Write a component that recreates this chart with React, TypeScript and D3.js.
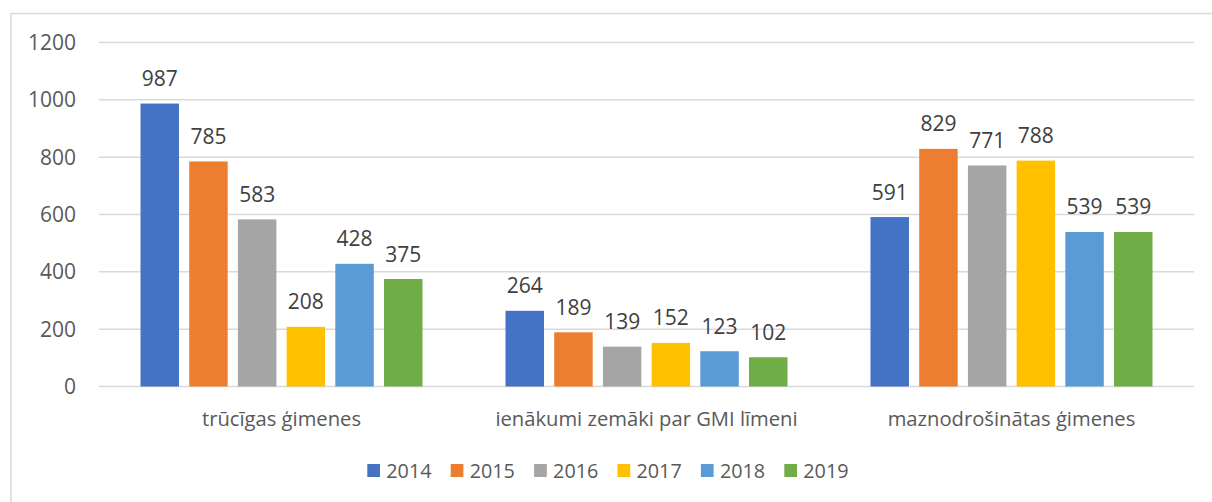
import React from "react";
import * as d3 from "d3";

const categories = ["trūcīgas ģimenes", "ienākumi zemāki par GMI līmeni", "maznodrošinātas ģimenes"];
const years = ["2014", "2015", "2016", "2017", "2018", "2019"];
const values2014 = [987, 264, 591];
const values2015 = [785, 189, 829];
const values2016 = [583, 139, 771];
const values2017 = [208, 152, 788];
const values2018 = [428, 123, 539];
const values2019 = [375, 102, 539];
const yTicks = [0, 200, 400, 600, 800, 1000, 1200];
const colors = ["#4472C4", "#ED7D31", "#A5A5A5", "#FFC000", "#5B9BD5", "#70AD47"];

const series = [values2014, values2015, values2016, values2017, values2018, values2019];

const W = 1212;
const H = 502;
const plotLeft = 99;
const plotRight = 1194;
const yTop = 42.5;
const yBottom = 386.5;
const FONT = "'Open Sans', sans-serif";
const TEXT = "#595959";
const LABEL = "#404040";

export default function App() {
  const y = d3.scaleLinear().domain([0, 1200]).range([yBottom, yTop]);
  const x0 = d3.scaleBand<string>().domain(categories).range([plotLeft, plotRight]).padding(0);
  const groupW = 282;
  const x1 = d3.scaleBand<string>().domain(years).range([0, groupW]).paddingInner(0.21).paddingOuter(0);

  const legendX = d3.scaleBand<string>().domain(years).range([367.3, 367.3 + 83.4 * 6]);

  return (
    <svg width={W} height={H} style={{ position: "absolute", left: 0, top: 0, background: "#fff" }} fontFamily={FONT}>
      <rect x={11} y={13.5} width={W + 20} height={H + 20} fill="#fff" stroke="#d9d9d9" strokeWidth={1.5} />
      {yTicks.map((t) => (
        <g key={t}>
          <line x1={plotLeft} x2={plotRight} y1={y(t)} y2={y(t)} stroke="#d9d9d9" strokeWidth={1.5} />
          <text x={76} y={y(t)} dy="0.36em" textAnchor="end" fontSize={21} fill={TEXT}>{t}</text>
        </g>
      ))}
      {categories.map((c, ci) => {
        const gx = (x0(c) as number) + (x0.bandwidth() - groupW) / 2;
        return (
          <g key={c}>
            {years.map((yr, si) => {
              const v = series[si][ci];
              const bx = gx + (x1(yr) as number);
              return (
                <g key={yr}>
                  <rect x={bx} y={y(v)} width={x1.bandwidth()} height={y(0) - y(v)} fill={colors[si]} />
                  <text x={bx + x1.bandwidth() / 2} y={y(v) - 17.5} textAnchor="middle" fontSize={21} fill={LABEL}>{v}</text>
                </g>
              );
            })}
            <text x={(x0(c) as number) + x0.bandwidth() / 2} y={426} textAnchor="middle" fontSize={20.2} fill={TEXT}>{c}</text>
          </g>
        );
      })}
      {years.map((yr, i) => (
        <g key={yr}>
          <rect x={legendX(yr) as number} y={464} width={12.7} height={13} fill={colors[i]} />
          <text x={(legendX(yr) as number) + 19} y={477.5} fontSize={19.8} fill={TEXT}>{yr}</text>
        </g>
      ))}
    </svg>
  );
}
